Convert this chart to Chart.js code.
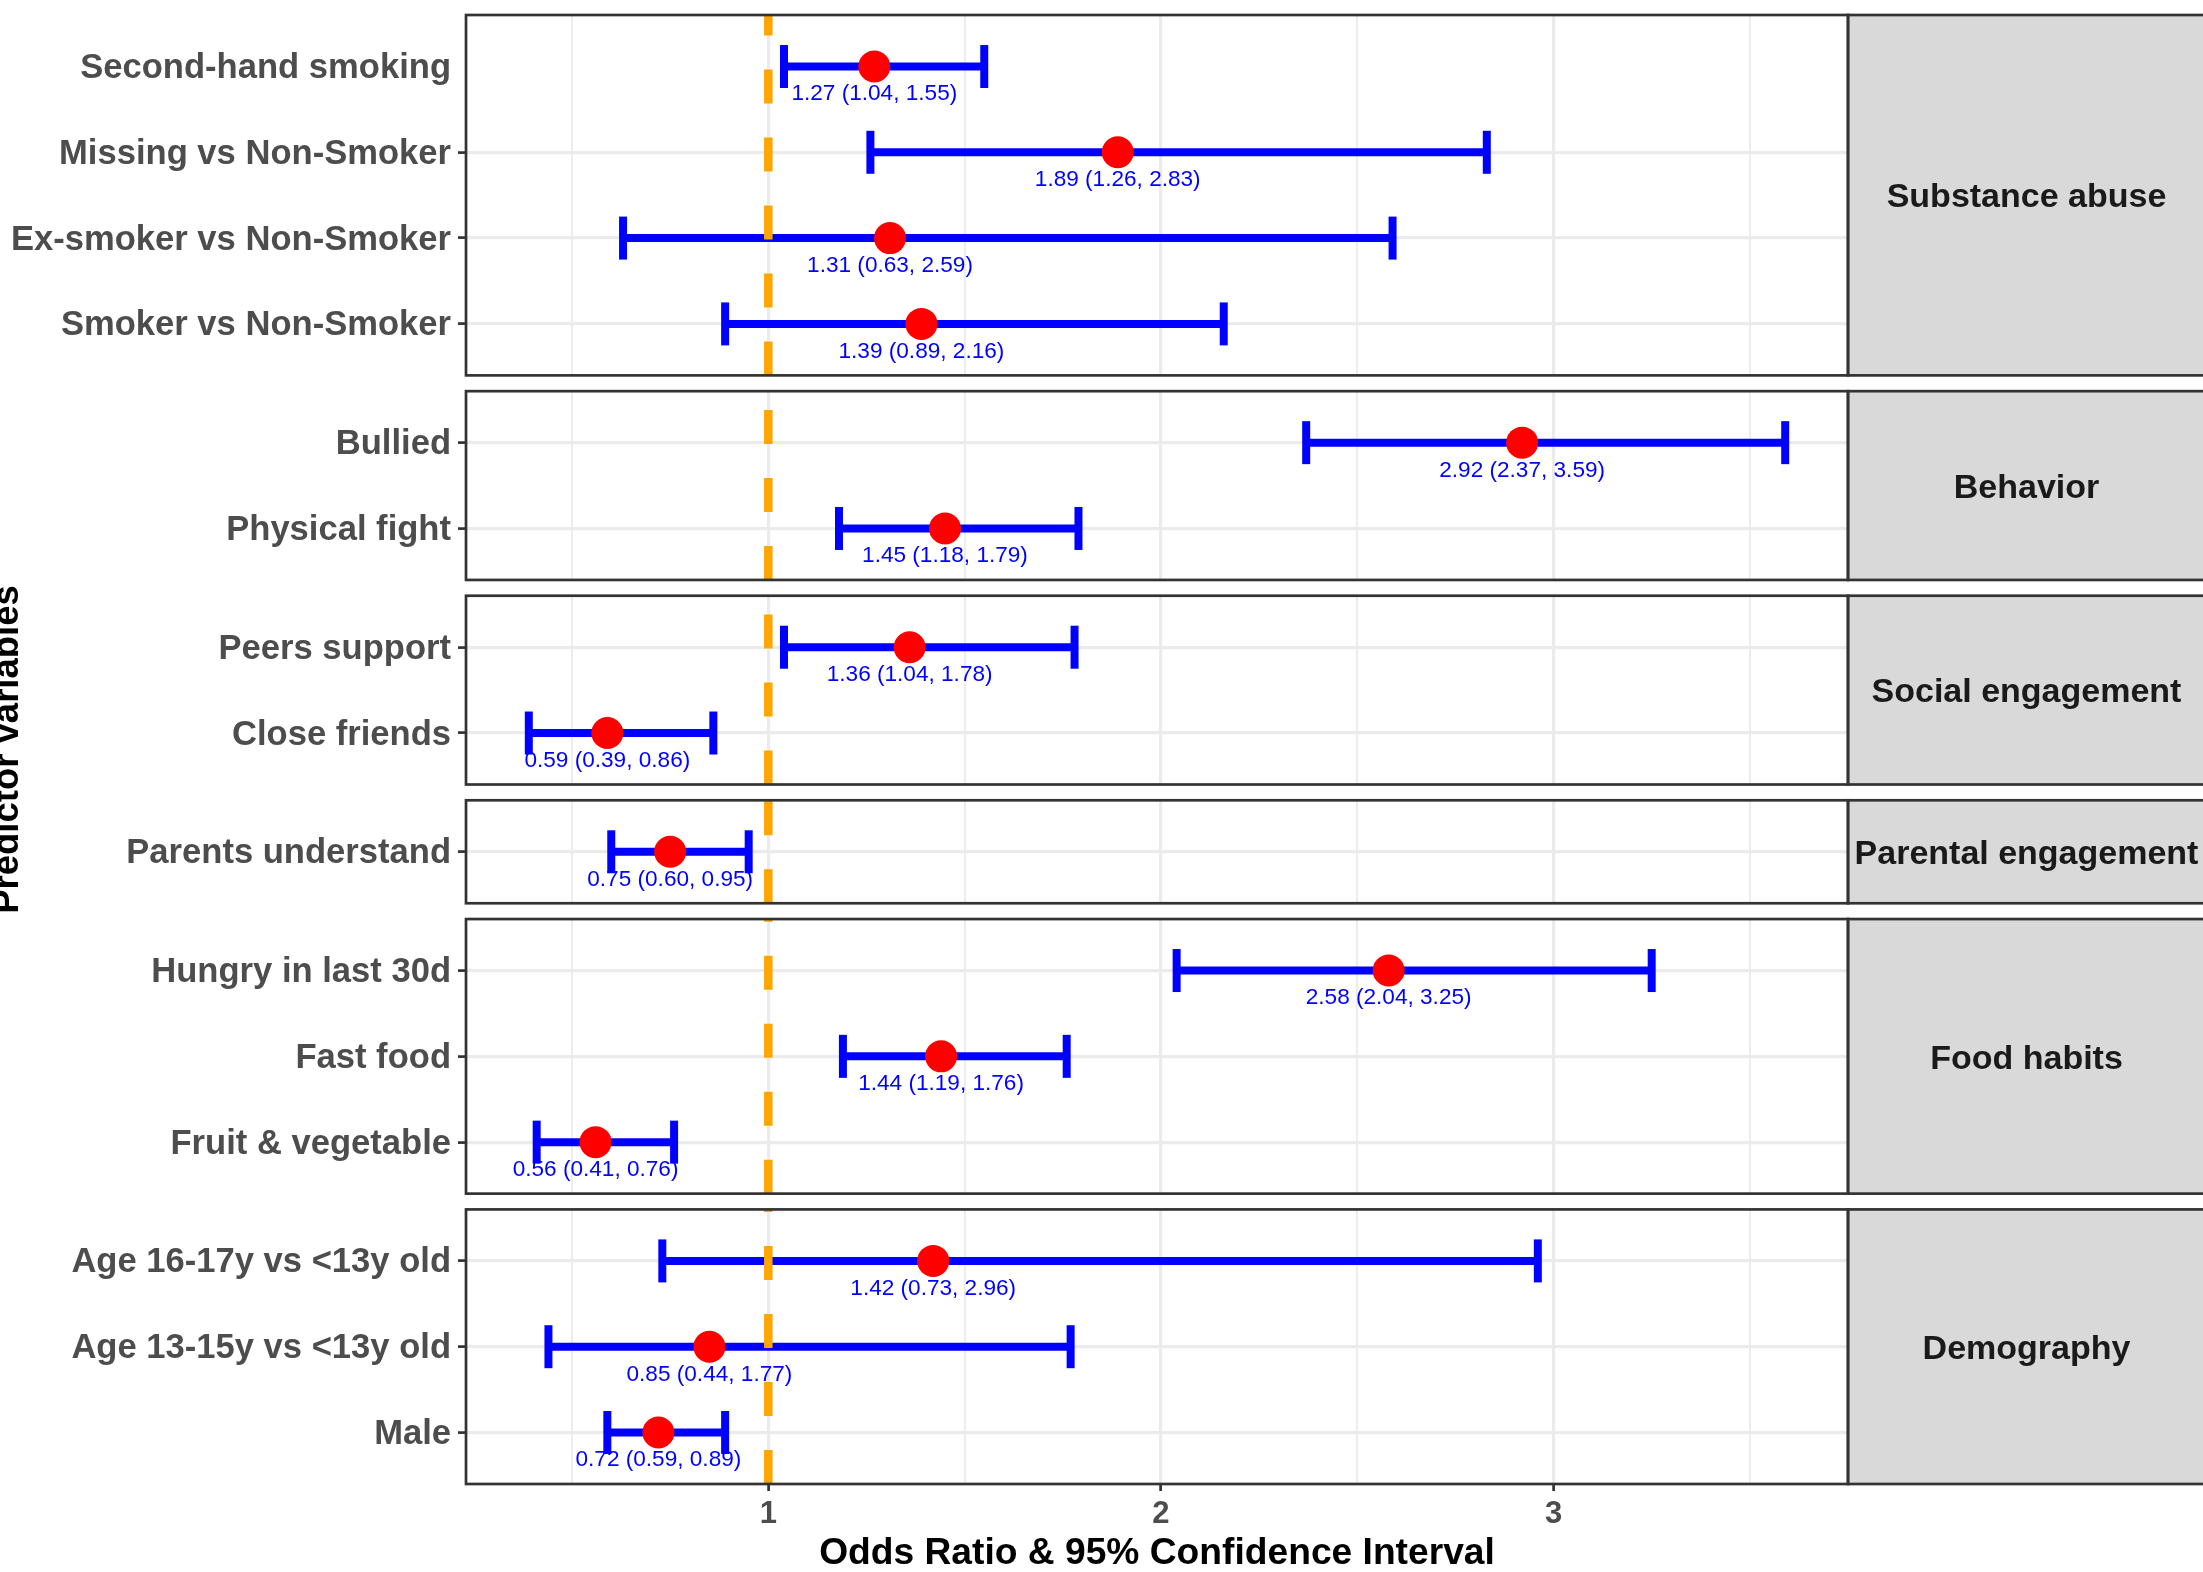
<!DOCTYPE html>
<html>
<head>
<meta charset="utf-8">
<title>Odds ratios by predictor group</title>
<script src="https://cdn.jsdelivr.net/npm/chart.js@4.4.1/dist/chart.umd.min.js"></script>
<style>
  html, body { margin: 0; padding: 0; background: #ffffff; }
  #c { display: block; }
</style>
</head>
<body>
<canvas id="c" width="2203" height="1572"></canvas>
<script>
// Facet groups (top to bottom) and how many predictors each one holds
const groups = ['Substance abuse', 'Behavior', 'Social engagement', 'Parental engagement', 'Food habits', 'Demography'];
const groupSizes = [4, 2, 2, 1, 3, 3];

// Predictors in display order, with odds ratio and 95% CI bounds
const predictors = [
  'Second-hand smoking', 'Missing vs Non-Smoker', 'Ex-smoker vs Non-Smoker', 'Smoker vs Non-Smoker',
  'Bullied', 'Physical fight',
  'Peers support', 'Close friends',
  'Parents understand',
  'Hungry in last 30d', 'Fast food', 'Fruit & vegetable',
  'Age 16-17y vs <13y old', 'Age 13-15y vs <13y old', 'Male'
];
const oddsRatio = [1.27, 1.89, 1.31, 1.39, 2.92, 1.45, 1.36, 0.59, 0.75, 2.58, 1.44, 0.56, 1.42, 0.85, 0.72];
const ciLower   = [1.04, 1.26, 0.63, 0.89, 2.37, 1.18, 1.04, 0.39, 0.60, 2.04, 1.19, 0.41, 0.73, 0.44, 0.59];
const ciUpper   = [1.55, 2.83, 2.59, 2.16, 3.59, 1.79, 1.78, 0.86, 0.95, 3.25, 1.76, 0.76, 2.96, 1.77, 0.89];

// x axis: gridline positions, labelled values and the null-effect reference
const xGridValues = [0.5, 1, 1.5, 2, 2.5, 3, 3.5];
const xLabelled = [1, 2, 3];
const nullEffect = 1;

// ---- facet layout on a single reversed y scale (units = one row) ----
const PAD = 0.6;      // empty space above first / below last row in a panel
const GAP = 0.184;    // white space between stacked panels
const panels = [];
const rowPos = [];
let cursor = 0;
groupSizes.forEach((n, g) => {
  const top = cursor;
  for (let i = 0; i < n; i++) rowPos.push(top + PAD + i);
  const bottom = top + 2 * PAD + (n - 1);
  panels.push({ top, bottom, name: groups[g] });
  cursor = bottom + GAP;
});
const yMax = cursor - GAP;

// y ticks: invisible bounds at both ends, rows in between
const yTickValues = [0, ...rowPos, yMax];

// ---- dataset builders ----
const intervalLines = [];
predictors.forEach((_, i) => {
  intervalLines.push({ x: ciLower[i], y: rowPos[i] });
  intervalLines.push({ x: ciUpper[i], y: rowPos[i] });
  intervalLines.push({ x: null, y: null });
});
const intervalCaps = [];
predictors.forEach((_, i) => {
  intervalCaps.push({ x: ciLower[i], y: rowPos[i] });
  intervalCaps.push({ x: ciUpper[i], y: rowPos[i] });
});
const estimates = predictors.map((_, i) => ({ x: oddsRatio[i], y: rowPos[i] }));
const refSegments = [];
panels.forEach(p => {
  // drawn bottom-up so the dash pattern starts at each panel's lower edge
  refSegments.push({ x: nullEffect, y: p.bottom });
  refSegments.push({ x: nullEffect, y: p.top });
  refSegments.push({ x: null, y: null });
});

const FONT = "'Liberation Sans', Arial, Helvetica, sans-serif";
const isBound = c => c.index === 0 || c.index === yTickValues.length - 1;

const facetPlugin = {
  id: 'facetPanels',
  beforeDatasetsDraw(chart) {
    // white space between panels (hides the vertical grid there)
    const { ctx, chartArea: a, scales: { y } } = chart;
    ctx.save();
    ctx.fillStyle = '#ffffff';
    for (let k = 0; k < panels.length - 1; k++) {
      const y0 = y.getPixelForValue(panels[k].bottom);
      const y1 = y.getPixelForValue(panels[k + 1].top);
      ctx.fillRect(a.left - 2, y0, a.right - a.left + 4, y1 - y0);
    }
    ctx.restore();
  },
  afterDatasetsDraw(chart) {
    const { ctx, chartArea: a, scales: { x, y } } = chart;
    ctx.save();

    // value labels under each estimate
    ctx.fillStyle = '#0000ff';
    ctx.font = `22.6px ${FONT}`;
    ctx.textAlign = 'center';
    ctx.textBaseline = 'alphabetic';
    predictors.forEach((_, i) => {
      const txt = `${oddsRatio[i].toFixed(2)} (${ciLower[i].toFixed(2)}, ${ciUpper[i].toFixed(2)})`;
      const px = x.getPixelForValue(oddsRatio[i]);
      const py = y.getPixelForValue(rowPos[i] + 0.3) + 0.36 * 22.6;
      ctx.fillText(txt, px, py);
    });

    // panel borders and strips on the right
    const stripRight = chart.width + 2;
    panels.forEach(p => {
      const y0 = y.getPixelForValue(p.top);
      const y1 = y.getPixelForValue(p.bottom);
      ctx.fillStyle = '#d9d9d9';
      ctx.fillRect(a.right, y0, stripRight - a.right, y1 - y0);
      ctx.strokeStyle = '#333333';
      ctx.lineWidth = 2.7;
      ctx.strokeRect(a.left, y0, a.right - a.left, y1 - y0);
      ctx.strokeRect(a.right, y0, stripRight - a.right, y1 - y0);
      ctx.fillStyle = '#1a1a1a';
      ctx.font = `bold 34px ${FONT}`;
      ctx.textAlign = 'center';
      ctx.textBaseline = 'alphabetic';
      ctx.fillText(p.name, (a.right + chart.width) / 2 + 1, (y0 + y1) / 2 + 0.36 * 34);
    });
    ctx.restore();
  }
};

new Chart(document.getElementById('c'), {
  type: 'scatter',
  data: {
    datasets: [
      {
        label: 'Odds ratio',
        data: estimates,
        order: 0,
        pointRadius: 16,
        pointHoverRadius: 16,
        pointBackgroundColor: '#ff0000',
        pointBorderWidth: 0,
        pointBorderColor: '#ff0000'
      },
      {
        type: 'line',
        label: 'OR = 1',
        data: refSegments,
        order: 1,
        borderColor: '#ffa500',
        borderWidth: 8.5,
        borderDash: [34, 34],
        pointRadius: 0,
        fill: false,
        spanGaps: false
      },
      {
        label: 'CI caps',
        data: intervalCaps,
        order: 2,
        pointStyle: 'line',
        pointRotation: 90,
        pointRadius: 21.5,
        pointHoverRadius: 21.5,
        pointBorderWidth: 8,
        pointBorderColor: '#0000ff',
        pointBackgroundColor: '#0000ff'
      },
      {
        type: 'line',
        label: '95% CI',
        data: intervalLines,
        order: 3,
        borderColor: '#0000ff',
        borderWidth: 8,
        pointRadius: 0,
        fill: false,
        spanGaps: false
      }
    ]
  },
  options: {
    responsive: false,
    devicePixelRatio: 1,
    animation: false,
    events: [],
    layout: { autoPadding: false, padding: { top: 15, right: 355, bottom: 0, left: 0 } },
    plugins: { legend: { display: false }, tooltip: { enabled: false } },
    scales: {
      x: {
        type: 'linear',
        min: 0.23,
        max: 3.75,
        afterBuildTicks: s => { s.ticks = xGridValues.map(v => ({ value: v })); },
        afterFit: s => { s.height = 88; s.paddingLeft = 0; s.paddingRight = 0; },
        border: { display: false },
        grid: {
          color: '#ebebeb',
          lineWidth: c => (xLabelled.includes(c.tick && c.tick.value) ? 3.2 : 1.8),
          tickLength: 7,
          tickWidth: 2.7,
          tickColor: c => (xLabelled.includes(c.tick && c.tick.value) ? '#333333' : 'rgba(0,0,0,0)')
        },
        ticks: {
          autoSkip: false,
          maxRotation: 0,
          padding: 5,
          color: '#4d4d4d',
          font: { family: FONT, size: 31, weight: 'bold' },
          callback: v => (xLabelled.includes(v) ? String(v) : '')
        },
        title: {
          display: true,
          text: 'Odds Ratio & 95% Confidence Interval',
          color: '#000000',
          font: { family: FONT, size: 37.2, weight: 'bold' },
          padding: { top: 0, bottom: -4 }
        }
      },
      y: {
        type: 'linear',
        min: 0,
        max: yMax,
        reverse: true,
        afterBuildTicks: s => { s.ticks = yTickValues.map(v => ({ value: v })); },
        afterFit: s => { s.width = 466; s.paddingTop = 0; s.paddingBottom = 0; },
        border: { display: false },
        grid: {
          color: c => (isBound(c) ? 'rgba(0,0,0,0)' : '#ebebeb'),
          lineWidth: 3.2,
          tickLength: 8,
          tickWidth: 2.7,
          tickColor: c => (isBound(c) ? 'rgba(0,0,0,0)' : '#333333')
        },
        ticks: {
          autoSkip: false,
          padding: 7,
          labelOffset: 2,
          color: '#4d4d4d',
          font: { family: FONT, size: 34.6, weight: 'bold' },
          callback: (v, i) => (i === 0 || i === yTickValues.length - 1 ? null : predictors[i - 1])
        },
        title: {
          display: true,
          text: 'Predictor variables',
          color: '#000000',
          font: { family: FONT, size: 36.5, weight: 'bold' },
          padding: { top: -14, bottom: 0 }
        }
      }
    }
  },
  plugins: [facetPlugin]
});
</script>
</body>
</html>
